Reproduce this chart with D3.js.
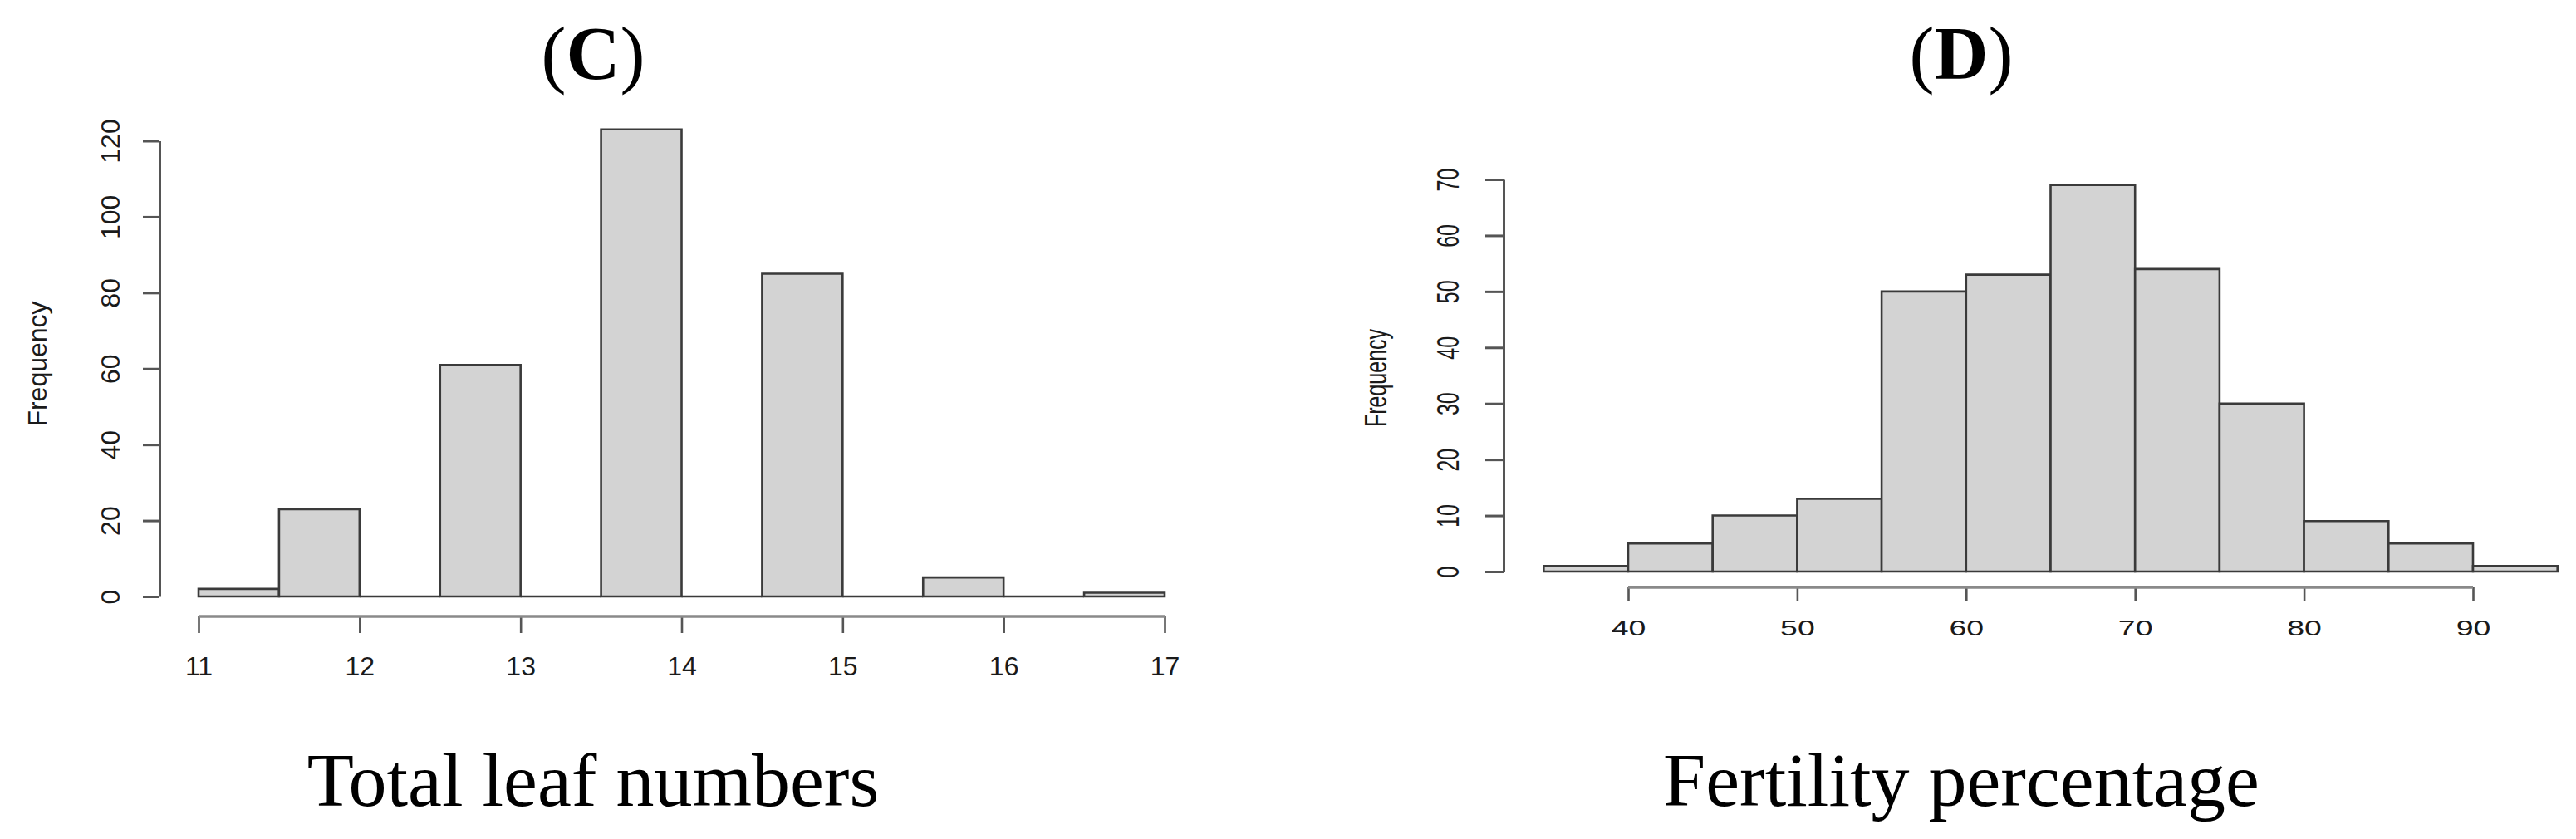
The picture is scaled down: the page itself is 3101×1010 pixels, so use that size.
<!DOCTYPE html>
<html>
<head>
<meta charset="utf-8">
<script src="https://cdn.jsdelivr.net/npm/d3@7"></script>
<style>
  body { margin: 0; background: #fff; }
  svg { display: block; }
</style>
</head>
<body>
<div id="chart"></div>
<script>
// (C) total leaf numbers
var leafBreaks = [11, 11.5, 12, 12.5, 13, 13.5, 14, 14.5, 15, 15.5, 16, 16.5, 17]
var leafCounts = [2, 23, 0, 61, 0, 123, 0, 85, 0, 5, 0, 1]
var leafXTicks = [11, 12, 13, 14, 15, 16, 17]
var leafYTicks = [0, 20, 40, 60, 80, 100, 120]

// (D) fertility percentage
var fertBreaks = [35, 40, 45, 50, 55, 60, 65, 70, 75, 80, 85, 90, 95]
var fertCounts = [1, 5, 10, 13, 50, 53, 69, 54, 30, 9, 5, 1]
var fertXTicks = [40, 50, 60, 70, 80, 90]
var fertYTicks = [0, 10, 20, 30, 40, 50, 60, 70]

var W = 3101, H = 1010
var serif = '"Palatino Linotype", "Book Antiqua", Palatino, "Liberation Serif", serif'
var sans = '"Liberation Sans", Arial, sans-serif'

var svg = d3.select('#chart').append('svg')
  .attr('width', W).attr('height', H)

function toBins(breaks, counts){
  return counts.map(function(c, i){ return {x0: breaks[i], x1: breaks[i + 1], n: c} })
}

function panel(o){
  var g = svg.append('g')
  var x = d3.scaleLinear().domain(o.xDomain).range(o.xRange)
  var y = d3.scaleLinear().domain(o.yDomain).range(o.yRange)
  var sx = o.textScale

  // bars (paths so that empty bins still show as a flat line)
  g.selectAll('path.bar').data(toBins(o.breaks, o.counts)).enter()
    .append('path').attr('class', 'bar')
    .attr('d', function(d){
      return 'M' + x(d.x0) + ',' + y(0) + 'V' + y(d.n) + 'H' + x(d.x1) + 'V' + y(0) + 'Z'
    })
    .attr('fill', '#d3d3d3')
    .attr('stroke', '#3a3a3a')
    .attr('stroke-width', 2.6)

  // y axis
  var yAxis = d3.axisLeft(y).tickValues(o.yTicks).tickSize(o.yTickLen).tickSizeOuter(0)
    .tickFormat(d3.format('d'))
  var ya = g.append('g').attr('transform', 'translate(' + o.yAxisX + ',0)').call(yAxis)
  ya.select('.domain').attr('stroke', '#555').attr('stroke-width', 3)
  ya.selectAll('.tick line').attr('stroke', '#555').attr('stroke-width', 3)
  ya.selectAll('.tick text')
    .attr('x', null).attr('dy', null)
    .attr('font-family', sans).attr('font-size', o.fontSize).attr('fill', '#1a1a1a')
    .attr('text-anchor', 'middle')
    .attr('transform', 'translate(' + (-o.yLabelOff) + ',0) scale(' + sx + ',1) rotate(-90)')
    .attr('dy', '0.36em')

  // x axis (R style: line only between first and last tick)
  var xAxis = d3.axisBottom(x).tickValues(o.xTicks).tickSize(o.xTickLen).tickSizeOuter(0)
    .tickFormat(d3.format('d'))
  var xa = g.append('g').attr('transform', 'translate(0,' + o.xAxisY + ')').call(xAxis)
  xa.select('.domain').remove()
  xa.append('line')
    .attr('x1', x(o.xTicks[0])).attr('x2', x(o.xTicks[o.xTicks.length - 1]))
    .attr('stroke', '#8a8a8a').attr('stroke-width', 3.5)
  xa.selectAll('.tick line').attr('stroke', '#555').attr('stroke-width', 2.6)
  xa.selectAll('.tick text')
    .attr('y', null).attr('dy', null)
    .attr('font-family', sans).attr('font-size', o.fontSize).attr('fill', '#1a1a1a')
    .attr('text-anchor', 'middle')
    .attr('transform', 'translate(0,' + o.xLabelOff + ') scale(' + sx + ',1)')
    .attr('dy', '0.36em')

  // y title
  g.append('text')
    .attr('transform', 'translate(' + o.ylabX + ',' + o.ylabY + ') scale(' + sx + ',1) rotate(-90)')
    .attr('text-anchor', 'middle').attr('dy', '0.36em')
    .attr('font-family', sans).attr('font-size', o.fontSize).attr('fill', '#1a1a1a')
    .text('Frequency')

  // panel letter
  var t = g.append('text')
    .attr('x', o.cx).attr('y', 95)
    .attr('text-anchor', 'middle')
    .attr('font-family', serif).attr('font-size', 90).attr('fill', '#000')
  t.append('tspan').text('(')
  t.append('tspan').attr('font-weight', 'bold').text(o.letter)
  t.append('tspan').text(')')

  // x title
  g.append('text')
    .attr('x', o.cx).attr('y', 970)
    .attr('text-anchor', 'middle')
    .attr('font-family', serif).attr('font-size', 92).attr('fill', '#000')
    .text(o.xTitle)
}

panel({
  breaks: leafBreaks, counts: leafCounts,
  xTicks: leafXTicks, yTicks: leafYTicks,
  xDomain: [11, 17], xRange: [239, 1402],
  yDomain: [0, 120], yRange: [718, 169.5],
  yAxisX: 192, yTickLen: 20, yLabelOff: 60,
  xAxisY: 742, xTickLen: 20, xLabelOff: 59,
  ylabX: 44, ylabY: 438,
  fontSize: 32, textScale: 1,
  cx: 714, letter: 'C', xTitle: 'Total leaf numbers'
})

panel({
  breaks: fertBreaks, counts: fertCounts,
  xTicks: fertXTicks, yTicks: fertYTicks,
  xDomain: [35, 95], xRange: [1858.3, 3078.7],
  yDomain: [0, 70], yRange: [688, 216],
  yAxisX: 1810, yTickLen: 22, yLabelOff: 68,
  xAxisY: 707, xTickLen: 16, xLabelOff: 49,
  ylabX: 1655, ylabY: 455,
  fontSize: 25, textScale: 1.5,
  cx: 2361, letter: 'D', xTitle: 'Fertility percentage'
})
</script>
</body>
</html>
